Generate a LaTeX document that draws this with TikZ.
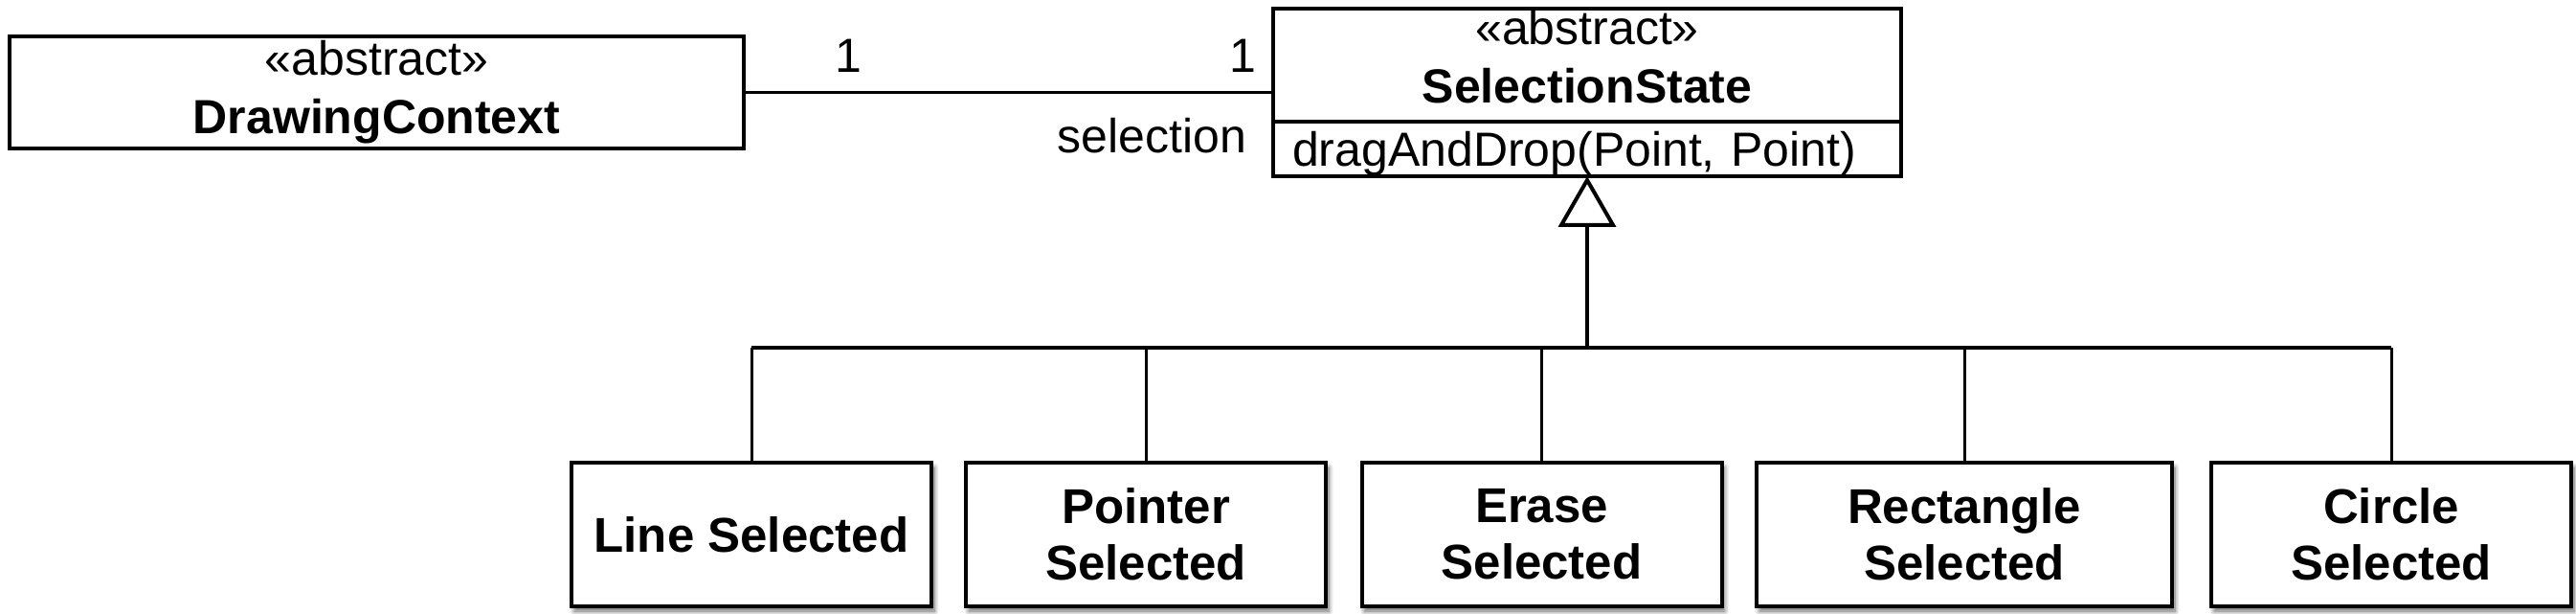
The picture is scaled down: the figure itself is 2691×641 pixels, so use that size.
\documentclass[tikz,border=0pt]{standalone}
\usepackage{fontspec}
\setmainfont{Liberation Sans}
\usepackage{tikz}
\usetikzlibrary{positioning,arrows.meta,calc,shadows.blur}
\definecolor{ink}{HTML}{000000}

\begin{document}
\begin{tikzpicture}[x=0.5pt,y=-0.5pt,
  every node/.style={font=\fontsize{25}{30.5}\selectfont,text=ink},
  umlbox/.style={draw=ink,line width=2pt,fill=white,inner sep=0pt,outer sep=0pt,align=center},
  subbox/.style={umlbox,minimum width=188pt,minimum height=75pt,
    font=\fontsize{25.5}{29.5}\selectfont\bfseries,
    blur shadow={shadow xshift=1.5pt,shadow yshift=-2.5pt,shadow blur radius=2.5pt,shadow blur steps=8,shadow opacity=60}},
  link/.style={ink,line width=1.7pt}]
  \useasboundingbox (0,0) rectangle (2691,641);
  \node[umlbox,minimum width=383.5pt,minimum height=58.5pt] (context) at (393.5,96.5) {«abstract»\\\textbf{DrawingContext}};
  \node[umlbox,minimum width=328pt,minimum height=59pt,text depth=9pt] (state) at (1658,68) {«abstract»\\\textbf{SelectionState}};
  \node[umlbox,minimum width=328pt,minimum height=28.5pt,anchor=north,align=left,text width=308pt,
    text height=22pt,text depth=4pt] (ops) at (state.south) {dragAndDrop(Point, Point)};
  % association
  \draw[link] (context.east) -- (context.east -| state.west);
  \node[anchor=base] (mult1) at (886,76) {1};
  \node[anchor=base] (mult2) at (1298,76) {1};
  \node[anchor=base east] (role) at (1309,160) {selection};
  % subclasses
  \node[subbox] (line) at (785,558) {Line Selected};
  \node[subbox] (pointer) at (1197,558) {Pointer\\Selected};
  \node[subbox] (erase) at (1610.5,558) {Erase\\Selected};
  \node[subbox,minimum width=217pt] (rect) at (2052,558) {Rectangle\\Selected};
  \node[subbox] (circle) at (2498,558) {Circle\\Selected};
  % generalization
  \coordinate (bus) at (1658,363);
  \draw[link,-{Triangle[open,length=26.5pt,width=30pt,line width=2pt]}] (bus) -- (bus |- ops.south);
  \draw[link,line width=2pt] (line.north |- bus) -- (circle.north |- bus);
  \foreach \k in {line,pointer,erase,rect,circle}
    \draw[link,line width=1.5pt] (\k.north) -- (\k.north |- bus);
\end{tikzpicture}
\end{document}
